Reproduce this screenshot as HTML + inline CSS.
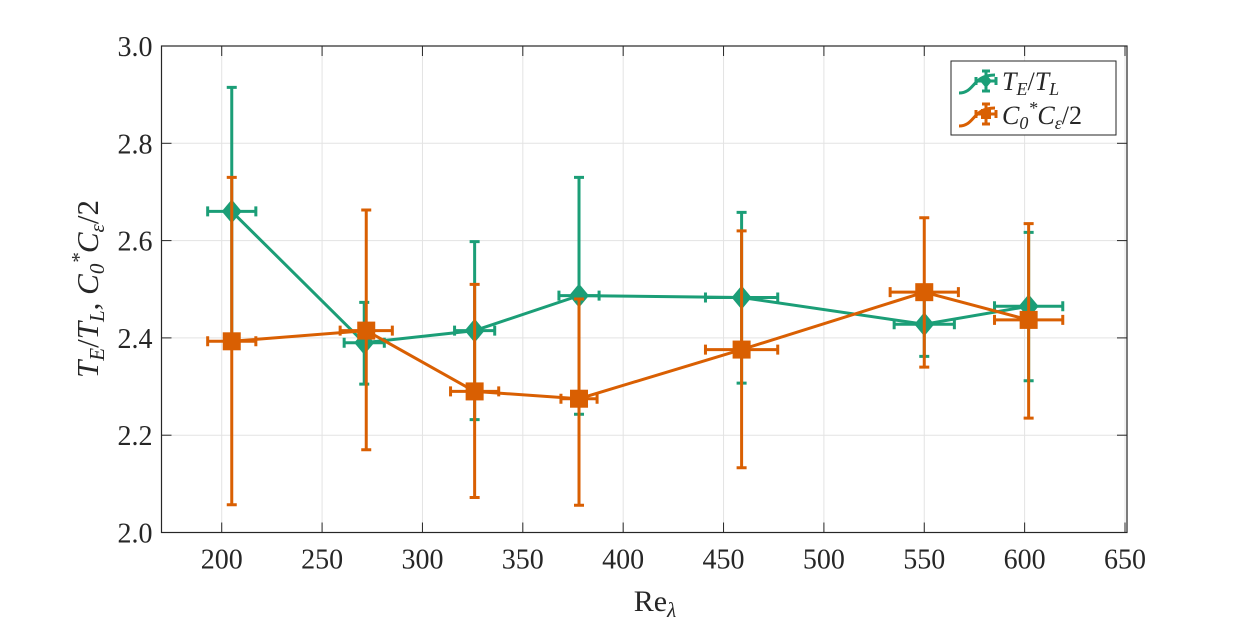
<!DOCTYPE html>
<html><head><meta charset="utf-8"><style>
body{margin:0;background:#fff}
svg{display:block;font-family:"Liberation Serif",serif}
</style></head><body>
<svg id="chart" width="1246" height="623">
<g id="grid"></g>
<g id="axes"></g>
<g id="series"></g>
<text x="655" y="611" font-size="30" text-anchor="middle" fill="#262626">Re<tspan font-size="21" dy="6" font-style="italic">λ</tspan></text>
<text transform="translate(98,289) rotate(-90)" font-size="31" text-anchor="middle" fill="#262626" font-style="italic">T<tspan font-size="21" dy="6">E</tspan><tspan dy="-6" font-style="normal">/</tspan>T<tspan font-size="21" dy="6">L</tspan><tspan dy="-6" font-style="normal">, </tspan>C<tspan font-size="21" dy="6">0</tspan><tspan font-size="21" dy="-18">*</tspan><tspan dy="12">C</tspan><tspan font-size="21" dy="6">ε</tspan><tspan dy="-6" font-style="normal">/2</tspan></text>
<g>
<rect x="951" y="61" width="165" height="74" fill="#fff" stroke="#262626" stroke-width="1"/>
<g>
<path d="M959,93 C975,93 972,75 995,75" stroke="#1b9e77" stroke-width="3" fill="none"/>
<path d="M976,81 L996,81 M986,71 L986,91 M976,77 v8 M996,77 v8 M982,71 h8 M982,91 h8" stroke="#1b9e77" stroke-width="3"/>
<path d="M986,74 l6,7 -6,7 -6,-7z" fill="#1b9e77"/>
<text x="1002" y="90" font-size="26" font-style="italic" fill="#262626">T<tspan font-size="18" dy="5">E</tspan><tspan dy="-5" font-style="normal">/</tspan>T<tspan font-size="18" dy="5">L</tspan></text>
</g>
<g>
<path d="M959,126 C975,126 972,108 995,108" stroke="#d95f02" stroke-width="3" fill="none"/>
<path d="M976,114 L996,114 M986,104 L986,124 M976,110 v8 M996,110 v8 M982,104 h8 M982,124 h8" stroke="#d95f02" stroke-width="3"/>
<rect x="981" y="109" width="10" height="10" fill="#d95f02"/>
<text x="1002" y="124" font-size="26" font-style="italic" fill="#262626">C<tspan font-size="18" dy="5">0</tspan><tspan font-size="18" dy="-15">*</tspan><tspan dy="10">C</tspan><tspan font-size="18" dy="5">ε</tspan><tspan dy="-5" font-style="normal">/2</tspan></text>
</g>
</g>
</svg>
<script>
const xTicks=[200,250,300,350,400,450,500,550,600,650];
const yTicks=[2.0,2.2,2.4,2.6,2.8,3.0];
const yTickLabels=["2.0","2.2","2.4","2.6","2.8","3.0"];
const teX=[205,271,326,378,459,550,602];
const teY=[2.66,2.39,2.415,2.487,2.483,2.428,2.465];
const teUp=[2.915,2.473,2.598,2.73,2.658,2.49,2.617];
const teLow=[2.405,2.305,2.232,2.243,2.307,2.362,2.312];
const teXErr=[12,10,10,10,18,15,17];
const cX=[205,272,326,378,459,550,602];
const cY=[2.393,2.415,2.29,2.275,2.376,2.494,2.437];
const cUp=[2.73,2.663,2.51,2.48,2.62,2.647,2.635];
const cLow=[2.057,2.17,2.072,2.056,2.133,2.34,2.235];
const cXErr=[12,13,12,9,18,17,17];

const L=161.5,R=1127,T=46,B=532.5,X0=170,X1=651,Y0=2.0,Y1=3.0;
const sx=v=>L+(v-X0)/(X1-X0)*(R-L);
const sy=v=>B-(v-Y0)/(Y1-Y0)*(B-T);
const NS="http://www.w3.org/2000/svg";
function mk(tag,attrs,parent){const e=document.createElementNS(NS,tag);for(const k in attrs)e.setAttribute(k,attrs[k]);parent.appendChild(e);return e;}
const grid=document.getElementById('grid'),axes=document.getElementById('axes'),series=document.getElementById('series');
xTicks.forEach((t,i)=>{
  const x=sx(t);
  const g=mk('line',{x1:x,x2:x,y1:T,y2:B,stroke:'#e3e3e3','stroke-width':1},grid);
  
  
  mk('line',{x1:x,x2:x,y1:B,y2:B-10,stroke:'#262626','stroke-width':1},axes);
  mk('line',{x1:x,x2:x,y1:T,y2:T+10,stroke:'#262626','stroke-width':1},axes);
  const lb=mk('text',{x:x,y:B+36,'font-size':28,'text-anchor':'middle',fill:'#262626'},axes);
  lb.textContent=String(t);
  
  
});
yTicks.forEach((t,i)=>{
  const y=sy(t);
  const g=mk('line',{x1:L,x2:R,y1:y,y2:y,stroke:'#e3e3e3','stroke-width':1},grid);
  
  
  mk('line',{x1:L,x2:L+10,y1:y,y2:y,stroke:'#262626','stroke-width':1},axes);
  mk('line',{x1:R,x2:R-10,y1:y,y2:y,stroke:'#262626','stroke-width':1},axes);
  const lb=mk('text',{x:L-9,y:y+10,'font-size':28,'text-anchor':'end',fill:'#262626'},axes);
  lb.textContent=yTickLabels[i];
  
  
});
mk('rect',{x:L,y:T,width:R-L,height:B-T,fill:'none',stroke:'#262626','stroke-width':1.2},axes);

function draw(xs,ys,up,low,xe,color,marker,name){
  const g=mk('g',{},series);
  
  
  mk('polyline',{points:xs.map((x,i)=>sx(x)+','+sy(ys[i])).join(' '),fill:'none',stroke:color,'stroke-width':3},g);
  xs.forEach((x,i)=>{
    const cx=sx(x),cy=sy(ys[i]),yu=sy(up[i]),yl=sy(low[i]),xl=sx(x-xe[i]),xr=sx(x+xe[i]);
    const eb=mk('path',{d:`M${cx},${yu}V${yl}M${cx-5},${yu}h10M${cx-5},${yl}h10M${xl},${cy}H${xr}M${xl},${cy-5}v10M${xr},${cy-5}v10`,stroke:color,'stroke-width':3,fill:'none'},g);
    
    
    let m;
    if(marker==='d') m=mk('path',{d:`M${cx},${cy-12}l10,12 -10,12 -10,-12z`,fill:color},g);
    else m=mk('rect',{x:cx-9,y:cy-9,width:18,height:18,fill:color},g);
    
    
  });
}
draw(teX,teY,teUp,teLow,teXErr,'#1b9e77','d','te-tl');
draw(cX,cY,cUp,cLow,cXErr,'#d95f02','s','c0-ceps');
</script>
</body></html>
